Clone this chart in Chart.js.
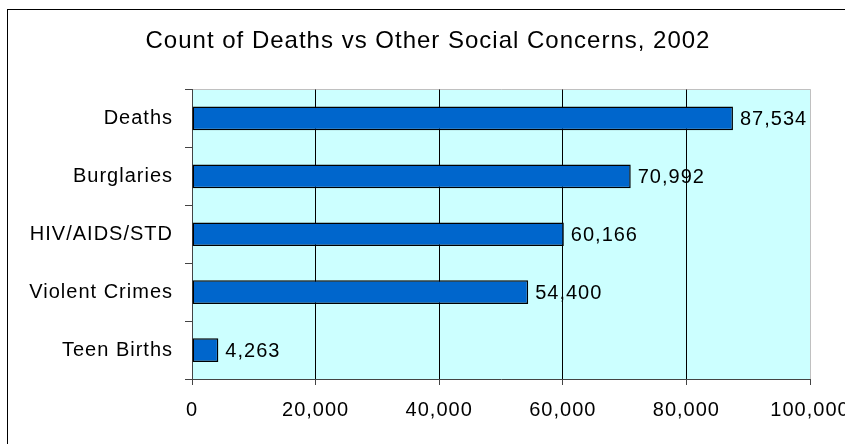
<!DOCTYPE html>
<html>
<head>
<meta charset="utf-8">
<script src="https://cdn.jsdelivr.net/npm/chart.js@4/dist/chart.umd.min.js"></script>
<style>
  html, body { margin: 0; padding: 0; background: #fff; overflow: hidden; width: 845px; height: 444px; }
  #frame { position: absolute; left: 7px; top: 9px; border: 1px solid #000; width: 870px; height: 460px; background: #fff; }
  canvas { display: block; }
</style>
</head>
<body>
<div id="frame"><canvas id="c" width="870" height="460"></canvas></div>
<script>
// Counts per category for 2002
const categories = ['Deaths', 'Burglaries', 'HIV/AIDS/STD', 'Violent Crimes', 'Teen Births'];
const counts = [87534, 70992, 60166, 54400, 4263];
// Value axis ticks
const axisTicks = [0, 20000, 40000, 60000, 80000, 100000];
const chartTitle = 'Count of Deaths vs Other Social Concerns, 2002';

const FONT = '"Liberation Sans", Arial, sans-serif';
const fmt = v => Number(v).toLocaleString('en-US');

// Slightly spaced text, as in the original export
const spacing = {
  id: 'spacing',
  beforeUpdate(c) { c.ctx.letterSpacing = '1px'; },
  beforeLayout(c) { c.ctx.letterSpacing = '1px'; },
  beforeDraw(c) { c.ctx.letterSpacing = '1px'; }
};

// Plot area fill, its light top/right edge, and the heading centred over the frame
const plotArea = {
  id: 'plotArea',
  beforeDraw(c) {
    const { ctx, chartArea: a } = c;
    ctx.save();
    ctx.fillStyle = '#CCFFFF';
    ctx.fillRect(a.left, a.top, a.right - a.left, a.bottom - a.top);
    ctx.strokeStyle = '#c0c0c0';
    ctx.lineWidth = 1;
    ctx.beginPath();
    const t = Math.round(a.top) - 0.5, r = Math.round(a.right) + 0.5;
    ctx.moveTo(a.left, t);
    ctx.lineTo(r, t);
    ctx.lineTo(r, a.bottom);
    ctx.stroke();

    ctx.font = '24px ' + FONT;
    ctx.fillStyle = '#000';
    ctx.textAlign = 'center';
    ctx.textBaseline = 'middle';
    ctx.fillText(chartTitle, 420, 31.5);
    ctx.restore();
  }
};

// Count printed at the end of each bar
const valueLabels = {
  id: 'valueLabels',
  afterDatasetsDraw(c) {
    const { ctx } = c;
    const meta = c.getDatasetMeta(0);
    ctx.save();
    ctx.font = '20px ' + FONT;
    ctx.fillStyle = '#000';
    ctx.textAlign = 'left';
    ctx.textBaseline = 'middle';
    meta.data.forEach((el, i) => {
      ctx.fillText(fmt(c.data.datasets[0].data[i]), el.x + 7, el.y + 1);
    });
    ctx.restore();
  }
};

Chart.defaults.color = '#000';
Chart.defaults.font.family = FONT;

new Chart(document.getElementById('c'), {
  type: 'bar',
  data: {
    labels: categories,
    datasets: [{
      data: counts,
      backgroundColor: '#0066CC',
      borderColor: '#000',
      borderWidth: 1.5,
      borderSkipped: false,
      categoryPercentage: 1,
      barPercentage: 0.41
    }]
  },
  options: {
    indexAxis: 'y',
    responsive: false,
    animation: false,
    devicePixelRatio: 1,
    layout: { padding: { left: 0, right: 68, top: 79.5, bottom: 31 } },
    plugins: {
      legend: { display: false },
      tooltip: { enabled: false },
      title: { display: false }
    },
    scales: {
      x: {
        type: 'linear',
        min: axisTicks[0],
        max: axisTicks[axisTicks.length - 1],
        afterBuildTicks(scale) { scale.ticks = axisTicks.map(v => ({ value: v })); },
        afterFit(scale) { scale.height = 60; },
        ticks: {
          font: { size: 20 },
          color: '#000',
          padding: 13,
          maxRotation: 0,
          autoSkip: false,
          callback: v => fmt(v)
        },
        grid: {
          color: ctx => (ctx.tick && ctx.tick.value === axisTicks[axisTicks.length - 1]) ? '#c0c0c0' : '#000',
          tickColor: '#444',
          tickLength: 6,
          lineWidth: 1
        },
        border: { display: true, color: '#444', width: 1 }
      },
      y: {
        type: 'category',
        offset: true,
        afterFit(scale) { scale.width = 184; },
        ticks: {
          font: { size: 20 },
          color: '#000',
          padding: 12,
          autoSkip: false
        },
        grid: {
          offset: true,
          drawOnChartArea: false,
          drawTicks: true,
          tickLength: 7,
          tickColor: '#444'
        },
        border: { display: true, color: '#444', width: 1 }
      }
    }
  },
  plugins: [spacing, plotArea, valueLabels]
});
</script>
</body>
</html>
